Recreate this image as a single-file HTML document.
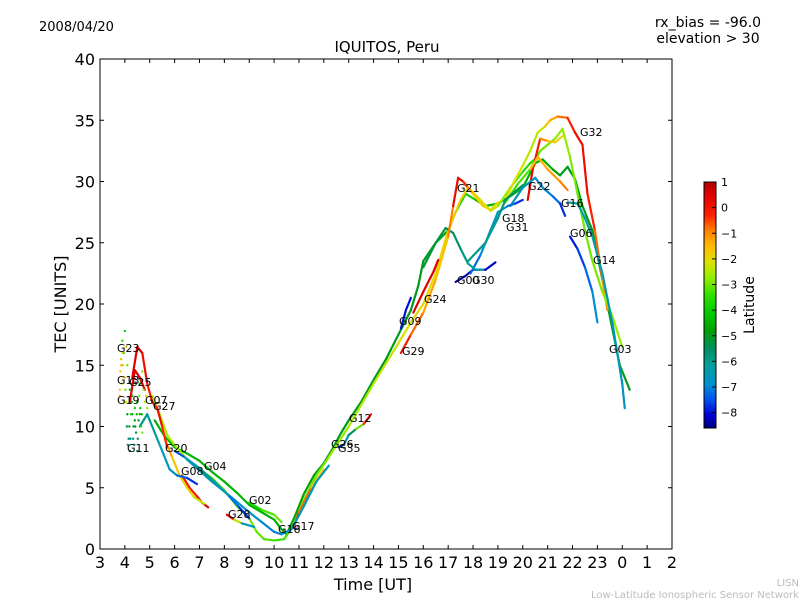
<!DOCTYPE html>
<html><head><meta charset="utf-8"><style>
body{margin:0;background:#fff;}
svg{display:block;font-family:"DejaVu Sans","Liberation Sans",sans-serif;}
</style></head><body>
<svg id="c" width="800" height="600" viewBox="0 0 800 600">
<rect width="800" height="600" fill="#fff"/>
<text x="39" y="31" font-size="13">2008/04/20</text>
<text x="708" y="27" font-size="14" text-anchor="middle">rx_bias = -96.0</text>
<text x="708" y="43" font-size="14" text-anchor="middle">elevation &gt; 30</text>
<text x="387" y="52" font-size="15" text-anchor="middle">IQUITOS, Peru</text>
<g id="plot"></g>
<rect x="100" y="59" width="572" height="490" fill="none" stroke="#000" stroke-width="1"/>
<g id="axes"></g>
<text x="373" y="590" font-size="16" text-anchor="middle">Time [UT]</text>
<text x="66" y="304" font-size="16" text-anchor="middle" transform="rotate(-90 66 304)">TEC [UNITS]</text>
<g id="cbar"></g>
<text x="754" y="305" font-size="14" text-anchor="middle" transform="rotate(-90 754 305)">Latitude</text>
<text x="799" y="586" font-size="10" fill="#bbb" text-anchor="end">LISN</text>
<text x="799" y="598" font-size="10" fill="#bbb" text-anchor="end">Low-Latitude Ionospheric Sensor Network</text>
</svg>
<script>
const xTicks=[3,4,5,6,7,8,9,10,11,12,13,14,15,16,17,18,19,20,21,22,23,24,25,26];
const xTickLabels=["3","4","5","6","7","8","9","10","11","12","13","14","15","16","17","18","19","20","21","22","23","0","1","2"];
const yTicks=[0,5,10,15,20,25,30,35,40];
const cbTicks=[1,0,-1,-2,-3,-4,-5,-6,-7,-8];
const latMin=-8.6, latMax=1;
// series: [time, tec, latitude]
const sG04=[[5.2,10.5,-4.5],[5.6,9.2,-4.5],[6,8.3,-4.5],[6.5,7.8,-4.5],[7,7.2,-4.5],[7.5,6.3,-4.5],[8,5.5,-4.5],[8.5,4.6,-4.5],[9,3.6,-4.5],[9.5,3,-4.5],[10,2.4,-4.5],[10.3,1.6,-4.6],[10.5,1.2,-4.6],[10.8,2.5,-4.7],[11.2,4.5,-4.8],[11.6,6,-4.8],[12,7,-4.9],[12.3,8,-5],[12.7,9.5,-5],[13,10.5,-5],[13.5,12,-5],[14,13.8,-5],[14.5,15.5,-5],[15,17.5,-5],[15.5,19.5,-5],[15.8,21.5,-5],[16,23.5,-5],[16.5,25,-5],[17,26,-4.5],[17.3,27.5,-4],[17.7,29,-4],[18.1,28.5,-4],[18.5,28,-4.5],[19,28.2,-4.5],[19.5,28.8,-4.5],[20,29.5,-4.5],[20.5,31.5,-4.5],[20.8,31.8,-4.5],[21.2,31,-4.5],[21.5,30.5,-5],[21.8,31.2,-5],[22.1,30.2,-5],[22.4,28,-5],[22.8,26,-5],[23.2,22,-5],[23.6,18,-5],[23.9,15,-5],[24.2,13.5,-5],[24.3,13,-5]];
const sG21=[[5.1,12.5,-2.5],[5.4,11,-2.5],[5.7,9.3,-2.5],[6,8.5,-2.6],[6.5,7.3,-2.7],[7,6.5,-2.8],[7.5,5.8,-3],[8,4.8,-3],[8.5,3.5,-3],[9,2.5,-3],[9.3,1.4,-3],[9.6,0.8,-3.2],[10,0.7,-3.3],[10.4,0.8,-3.4],[10.8,2,-3.2],[11.2,4,-3],[11.7,6,-3],[12.2,7.5,-2.8],[13,10,-2.6],[14,13.5,-2.5],[15,16.8,-2.3],[15.5,18.5,-2],[16,20,-2],[16.5,22.5,-2],[17,26,-1.8],[17.5,28.5,-1.8],[17.8,29.5,-2],[18.3,28.5,-2],[18.7,27.6,-2.2],[19,28,-2.5],[19.5,29.5,-3],[20,30.8,-3.5],[20.3,31.5,-3.7],[20.6,32,-3.8]];
const sG32=[[19.2,28,-2],[19.6,29.8,-2],[20,31.3,-2.2],[20.3,32.5,-2.5],[20.6,34,-2.5],[20.9,34.5,-2],[21.1,35,-1.5],[21.4,35.3,-1],[21.8,35.2,-0.5],[22.1,34,0],[22.4,33,0.3],[22.6,29,0],[22.9,26,-0.5],[23.2,22,-1],[23.4,19.5,-1.2]];
const sG03=[[19.3,28.3,-3.5],[19.8,29.8,-3.3],[20.3,31,-3.2],[20.7,32.5,-3],[21,33,-3],[21.3,33.5,-2.8],[21.6,34.3,-2.7],[21.9,32,-2.8],[22.2,29,-3],[22.5,26,-3],[22.8,23.5,-3],[23.2,21,-2.8],[23.6,19,-2.7],[24,16.5,-2.7]];
const sG22a=[[20.2,28.5,0.5],[20.4,31,0.3],[20.7,33.5,-0.5],[21,33.3,-1.5],[21.3,33.2,-1.7],[21.6,33.7,-2]];
const sG22b=[[20.3,31,-1.5],[20.6,32,-1.5],[21,31,-1.3],[21.5,30,-1],[21.8,29.3,-0.8]];
const sG16=[[19.5,28,-6.5],[20,29.5,-6.5],[20.5,30.3,-6.8],[20.8,29.5,-7],[21.2,28.8,-7],[21.5,28.2,-7.5],[21.7,27.2,-8]];
const sG06=[[21.9,25.5,-8],[22.2,24.5,-7.8],[22.5,23,-7.5],[22.8,21,-7],[23,18.5,-6.8]];
const sG16b=[[21.8,28.3,-6],[22.2,28.2,-6.2],[22.5,27,-6.3],[22.8,25.5,-6.3],[23.2,22.5,-6.3],[23.6,18.5,-6.5],[24,13.5,-6.7],[24.1,11.5,-6.8]];
const sG30=[[17.3,21.8,-8.3],[17.7,22.3,-8.3],[18,22.8,-8.3],[18.5,22.8,-8.2],[18.9,23.4,-8.2]];
const sG18=[[17.9,22.5,-7.5],[18.3,24,-7],[18.7,26,-6.8],[19,27.5,-6.5],[19.4,28,-7],[19.7,28.2,-7.5],[20,28.5,-8]];
const sG31=[[17.8,23.5,-6],[18.5,25,-6],[19,27,-6],[19.3,28.5,-5.8],[19.7,29.2,-5.5],[20,29.7,-5.3]];
const sG17h=[[16,23,-5.2],[16.5,25,-5.2],[16.9,26.2,-5.3],[17.2,25.8,-5.5],[17.5,24.5,-5.7],[17.8,23.3,-6],[18.1,22.8,-6.3],[18.4,22.8,-6.5]];
const sG24=[[15.6,19.3,0.5],[16,21,0.5],[16.4,22.6,0.5],[16.6,23.6,0.5]];
const sG29=[[15.1,16,0.3],[15.5,17.5,-0.5],[16,19.3,-1],[16.5,22,-1.5],[17,25.5,-1.8],[17.2,28,0],[17.4,30.3,0.5],[17.6,30,0.3],[17.8,29.5,-1],[18,29,-1.5],[18.4,28,-2],[18.7,27.7,-2],[19,28.3,-2]];
const sG17=[[10.6,1.5,-8],[10.8,1.8,0],[11,3,-0.5],[11.5,5,-1],[12,6.5,-2]];
const sG35=[[12.6,8.3,-8],[12.8,8.5,-7],[13,9.3,-6],[13.3,9.8,-5],[13.6,10.2,-1],[13.9,11,0.5]];
const sG09=[[15.1,18,-8],[15.3,19.5,-8],[15.5,20.5,-8]];
const sTeal=[[6.5,7.3,-6.5],[7.5,5.5,-6.5],[8.3,4.2,-6.8],[9,3,-6.8],[9.5,2.2,-7],[10,1.4,-7],[10.3,1.2,-7],[10.7,1.6,-6.5],[11.2,3.5,-6.5],[11.7,5.5,-6.5],[12.2,6.8,-6.5]];
const sG02=[[9,3.8,-4],[9.5,3.2,-3.5],[10,2.8,-3],[10.3,2.2,-3]];
const sG08=[[6.3,6,0.3],[6.6,5,-0.5],[6.9,4.3,0],[7.1,3.8,0.3],[7.35,3.4,0.5]];
const sG27=[[5.6,9,-1],[5.9,7.5,-1.5],[6.2,6,-1.8],[6.5,5,-2],[6.8,4.2,-2.2],[7.2,3.7,-2.5]];
const sG11=[[4.6,10,-6],[4.9,11,-6],[5.2,9.5,-6],[5.5,8,-6.5],[5.8,6.5,-6.5],[6.1,6,-7],[6.5,5.8,-7.5],[6.9,5.3,-8]];
const sG20=[[6,8,-8],[6.4,7.5,-7],[7,6.6,-6],[7.6,5.5,-6],[8.2,4.3,-7],[8.6,3.4,-7.5],[9,2.5,-8]];
const sG28=[[8.1,2.8,0.5],[8.4,2.4,0],[8.7,2.1,-5],[9.2,1.8,-8]];
const sG23=[[4.3,14,0.5],[4.5,16.5,0.5],[4.7,16,0.3],[4.9,13.5,0],[5.1,12,-0.5],[5.3,11.5,0],[5.5,10,0.3],[5.7,8.3,-1]];
const sG15=[[4.2,12,0.5],[4.4,14.6,0.5],[4.6,14,0.5],[4.8,13,0.3]];
const dotsX=[3.8,3.85,3.9,3.95,4.0,4.05,4.1,4.15,4.2,3.8,3.9,4.0,4.1,4.2,4.3,4.35,4.4,4.45,4.5,4.55,4.6,4.65,4.7,3.85,3.95,4.05,4.25,4.3,4.4,4.5,4.6,4.7,4.8,3.82,3.88,3.92,3.98,4.02,4.08,4.12,4.18,4.22,4.28,4.33,4.38,4.42,4.48,4.52,4.58,4.62,4.68,4.75,4.85,4.9];
const dotsY=[13,15,17,16,14,12,11,9,8,12.5,16,17.8,15,13,11,10,11.5,9.5,8,10.5,11,10,9.5,15.5,14,16.5,11,12.5,10.5,12,13.5,14.5,12,14.5,13.5,15,12,13,10,8.5,10,9,12,9,8.5,10,11,9,12.5,11.5,11,13,12.5,11.5];
const dotsLat=[-2,-1.5,-3.5,-4,-1.8,-2.5,-5,-6,-5.5,-1.5,-2,-4,-3,-4.5,-5,-5.5,-4,-5,-6,-5,-4.5,-3.5,-3,-1.5,-2,-1.8,-4,-4.5,-5,-4,-3.5,-3,-2.5,-1.7,-2.2,-1.5,-2,-3,-5.5,-6,-5,-5.5,-4.5,-6,-6.2,-5,-4.5,-5.5,-3,-4,-4.5,-2.5,-2,-2.8];
const allSeries=[sG04,sG21,sG32,sG03,sG22a,sG22b,sG16,sG06,sG16b,sG30,sG18,sG31,sG17h,sG24,sG29,sG17,sG35,sG09,sTeal,sG02,sG08,sG27,sG11,sG20,sG28,sG23,sG15];
const seriesNames=["G04","G21","G32","G03","G22a","G22b","G16","G06","G16b","G30","G18","G31","G17h","G24","G29","G17","G35","G09","teal","G02","G08","G27","G11","G20","G28","G23","G15"];
const labelTxt=["G23","G13","G25","G19","G07","G27","G11","G20","G08","G04","G02","G28","G16","G17","G26","G35","G12","G09","G29","G24","G00","G30","G21","G18","G31","G22","G16","G06","G14","G03","G32"];
const labelX=[117,117,129,117,145,153,127,165,181,204,249,228,278,292,331,338,349,399,402,424,457,472,457,502,506,528,561,570,593,609,580];
const labelY=[352,384,386,404,404,410,452,452,475,470,504,518,533,530,448,452,422,325,355,303,284,284,192,222,231,190,207,237,264,353,136];

const X=t=>100+(t-3)*572/23;
const Y=v=>549-v*490/40;
const stops=[[1,"#b00000"],[0.5,"#e00000"],[-0.3,"#ff2000"],[-0.9,"#ff8000"],[-1.5,"#ffbb00"],[-2.1,"#e0e000"],[-2.7,"#99ee00"],[-3.4,"#33e000"],[-4.1,"#00cc00"],[-4.8,"#00a000"],[-5.5,"#009060"],[-6.2,"#00a0a0"],[-6.9,"#0090d0"],[-7.5,"#0050f0"],[-8.1,"#0000d0"],[-8.6,"#000080"]];
function hex(h){return [1,3,5].map(i=>parseInt(h.substr(i,2),16));}
function col(l){
  if(l>=stops[0][0])return stops[0][1];
  for(let i=0;i<stops.length-1;i++){const a=stops[i],b=stops[i+1];
    if(l<=a[0]&&l>=b[0]){const f=(a[0]-l)/(a[0]-b[0]);const ca=hex(a[1]),cb=hex(b[1]);
      return "rgb("+ca.map((c,k)=>Math.round(c+(cb[k]-c)*f)).join(",")+")";}}
  return stops[stops.length-1][1];}
const NS="http://www.w3.org/2000/svg";
function mk(tag,attrs,parent){const e=document.createElementNS(NS,tag);for(const k in attrs)e.setAttribute(k,attrs[k]);parent.appendChild(e);return e;}
const plot=document.getElementById("plot");
allSeries.forEach((s,si)=>{
  const g=mk("g",{},plot);
  
  
  for(let i=0;i<s.length-1;i++){
    const ln=mk("line",{x1:X(s[i][0]),y1:Y(s[i][1]),x2:X(s[i+1][0]),y2:Y(s[i+1][1]),stroke:col((s[i][2]+s[i+1][2])/2),"stroke-width":2.2,"stroke-linecap":"round"},g);
    
    
  }
});
dotsX.forEach((t,i)=>{
  const d=mk("circle",{cx:X(t),cy:Y(dotsY[i]),r:1.2,fill:col(dotsLat[i])},plot);
  
  
});
labelTxt.forEach((t,i)=>{
  const e=mk("text",{x:labelX[i],y:labelY[i],"font-size":11},plot);
  e.textContent=t;
  
  
});
const axes=document.getElementById("axes");
xTicks.forEach((t,i)=>{
  const x=X(t);
  const a=mk("line",{x1:x,y1:549,x2:x,y2:545,stroke:"#000"},axes);
  
  
  const b=mk("line",{x1:x,y1:59,x2:x,y2:63,stroke:"#000"},axes);
  
  
  const l=mk("text",{x:x,y:568,"font-size":16,"text-anchor":"middle"},axes);
  l.textContent=xTickLabels[i];
  
  
});
yTicks.forEach(v=>{
  const y=Y(v);
  const a=mk("line",{x1:100,y1:y,x2:104,y2:y,stroke:"#000"},axes);
  
  
  const b=mk("line",{x1:672,y1:y,x2:668,y2:y,stroke:"#000"},axes);
  
  
  const l=mk("text",{x:95,y:y+6,"font-size":16,"text-anchor":"end"},axes);
  l.textContent=v;
  
  
});
const cb=document.getElementById("cbar");
const CB=l=>428-(l-latMin)*(428-182)/(latMax-latMin);
for(let y=182;y<428;y++){
  const l=latMin+(428-y-0.5)*(latMax-latMin)/246;
  const r=mk("rect",{x:704,y:y,width:12,height:1.2,fill:col(l)},cb);
  
  
}
const fr=mk("rect",{x:704,y:182,width:12,height:246,fill:"none",stroke:"#000","stroke-width":1},cb);


cbTicks.forEach(l=>{
  const y=CB(l);
  const a=mk("line",{x1:712,y1:y,x2:716,y2:y,stroke:"#000"},cb);
  
  
  const t=mk("text",{x:721,y:y+4,"font-size":11},cb);
  t.textContent=l<0?"\u2212"+(-l):String(l);
  
  
});
</script>
</body></html>
